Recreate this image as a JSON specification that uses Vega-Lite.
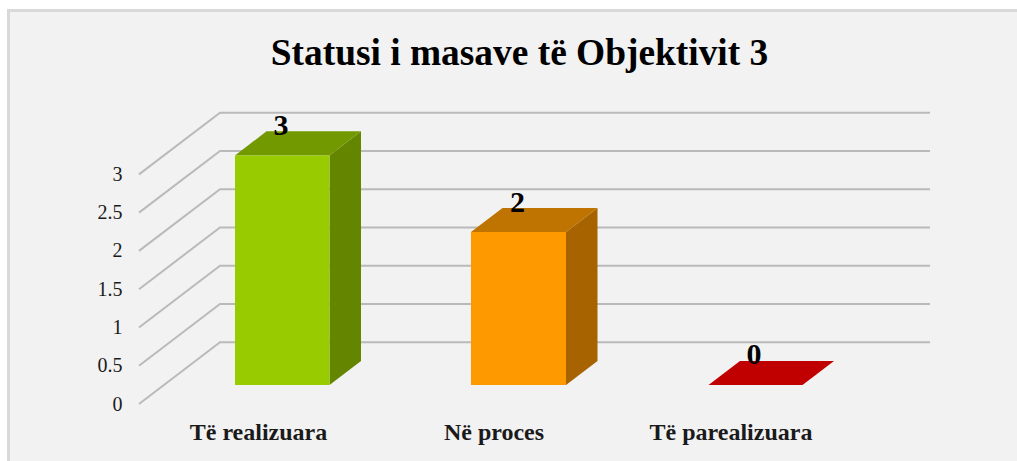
{
"$schema":"https://vega.github.io/schema/vega-lite/v6.json",
"autosize":"none","padding":0,"width":1017,"height":461,"background":"#ffffff",
"view":{"stroke":null,"fill":null},
"title":{"text":"Statusi i masave të Objektivit 3","font":"Liberation Serif","fontSize":37.4,"fontWeight":"bold","color":"#000000","anchor":"middle","frame":"group","dx":11,"dy":102,"offset":0,"baseline":"alphabetic"},
"datasets":{
"panel":[{"x":8.5,"x2":1040,"y":5.14,"y2":-1.2}],
"grid":[
{"tick":0,"x":139,"y":0},{"tick":0,"x":220,"y":0.806},{"tick":0,"x":930,"y":0.806},
{"tick":0.5,"x":139,"y":0.5},{"tick":0.5,"x":220,"y":1.306},{"tick":0.5,"x":930,"y":1.306},
{"tick":1,"x":139,"y":1},{"tick":1,"x":220,"y":1.806},{"tick":1,"x":930,"y":1.806},
{"tick":1.5,"x":139,"y":1.5},{"tick":1.5,"x":220,"y":2.306},{"tick":1.5,"x":930,"y":2.306},
{"tick":2,"x":139,"y":2},{"tick":2,"x":220,"y":2.806},{"tick":2,"x":930,"y":2.806},
{"tick":2.5,"x":139,"y":2.5},{"tick":2.5,"x":220,"y":3.306},{"tick":2.5,"x":930,"y":3.306},
{"tick":3,"x":139,"y":3},{"tick":3,"x":220,"y":3.806},{"tick":3,"x":930,"y":3.806}
],
"front":[
{"category":"Të realizuara","value":3,"x":235,"x2":329.5,"y":0.248,"y2":3.248},
{"category":"Në proces","value":2,"x":471,"x2":566,"y":0.248,"y2":2.248}
],
"side":[
{"category":"Të realizuara","x":329.5,"y":0.248,"y2":3.248},
{"category":"Të realizuara","x":361,"y":0.562,"y2":3.562},
{"category":"Në proces","x":566,"y":0.248,"y2":2.248},
{"category":"Në proces","x":597.5,"y":0.562,"y2":2.562}
],
"topface":[
{"category":"Të realizuara","y":3.248,"x":235,"x2":329.5},
{"category":"Të realizuara","y":3.562,"x":266.5,"x2":361},
{"category":"Në proces","y":2.248,"x":471,"x2":566},
{"category":"Në proces","y":2.562,"x":502.5,"x2":597.5},
{"category":"Të parealizuara","y":0.248,"x":708.5,"x2":802.5},
{"category":"Të parealizuara","y":0.562,"x":740,"x2":834}
],
"values":[
{"category":"Të realizuara","value":3,"x":281,"y":3.632},
{"category":"Në proces","value":2,"x":517.5,"y":2.632},
{"category":"Të parealizuara","value":0,"x":754,"y":0.64}
],
"categories":[
{"category":"Të realizuara","x":258.5,"y":-0.47},
{"category":"Në proces","x":494,"y":-0.47},
{"category":"Të parealizuara","x":731,"y":-0.47}
]
},
"encoding":{
"x":{"field":"x","type":"quantitative","stack":null,"scale":{"domain":[0,1017],"nice":false,"zero":false},"axis":null},
"y":{"field":"y","type":"quantitative","stack":null,"scale":{"domain":[-0.7446,5.278],"nice":false,"zero":false},
"axis":{"orient":"left","title":null,"offset":-124,"zindex":1,"domain":false,"ticks":false,"grid":false,"values":[0,0.5,1,1.5,2,2.5,3],"labelPadding":2,"labelFont":"Liberation Serif","labelFontSize":20,"labelColor":"#1a1a1a","labelAlign":"right","labelBaseline":"middle","format":".1~f","labelOverlap":false}}
},
"layer":[
{"data":{"name":"panel"},"mark":{"type":"rect","fill":"#f2f2f2","stroke":"#d9d9d9","strokeWidth":3,"clip":true},"encoding":{"x2":{"field":"x2"},"y2":{"field":"y2"}}},
{"data":{"name":"grid"},"mark":{"type":"line","stroke":"#bababa","strokeWidth":2},"encoding":{"detail":{"field":"tick"},"order":{"field":"x"}}},
{"data":{"name":"side"},"mark":{"type":"area","orient":"vertical"},"encoding":{"y2":{"field":"y2"},"color":{"field":"category","legend":null,"scale":{"domain":["Të realizuara","Në proces"],"range":["#638500","#a66300"]}}}},
{"data":{"name":"topface"},"mark":{"type":"area","orient":"horizontal"},"encoding":{"x2":{"field":"x2"},"color":{"field":"category","legend":null,"scale":{"domain":["Të realizuara","Në proces","Të parealizuara"],"range":["#739900","#bf7300","#c00000"]}}}},
{"data":{"name":"front"},"mark":{"type":"rect"},"encoding":{"x2":{"field":"x2"},"y2":{"field":"y2"},"color":{"field":"category","legend":null,"scale":{"domain":["Të realizuara","Në proces"],"range":["#99cc00","#ff9900"]}}}},
{"data":{"name":"values"},"mark":{"type":"text","font":"Liberation Serif","fontSize":30,"fontWeight":"bold","color":"#000000","align":"center","baseline":"middle"},"encoding":{"text":{"field":"value","type":"quantitative"}}},
{"data":{"name":"categories"},"mark":{"type":"text","font":"Liberation Serif","fontSize":24,"fontWeight":"bold","color":"#1a1a1a","align":"center","baseline":"alphabetic"},"encoding":{"text":{"field":"category","type":"nominal"}}}
],
"resolve":{"scale":{"color":"independent"}}
}
